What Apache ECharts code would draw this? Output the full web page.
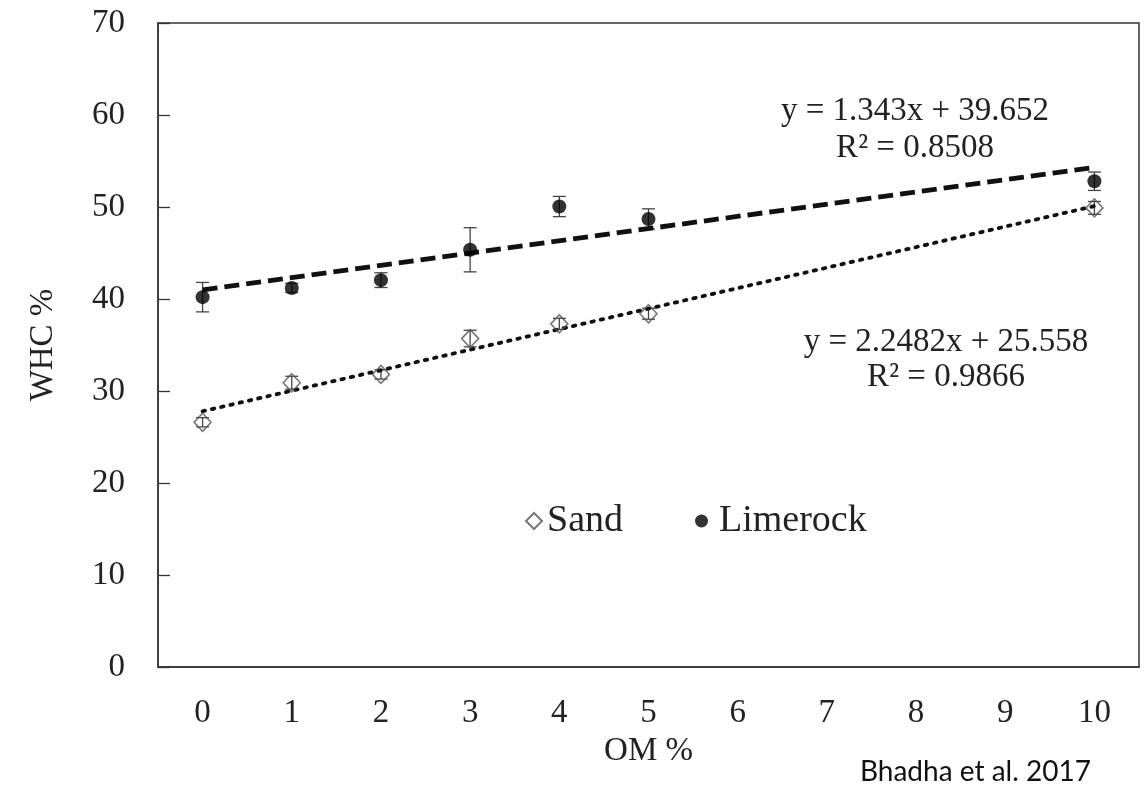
<!DOCTYPE html>
<html>
<head>
<meta charset="utf-8">
<script src="https://cdn.jsdelivr.net/npm/echarts@6/dist/echarts.min.js"></script>
<style>
html,body{margin:0;padding:0;background:#fff;}
#chart{width:1148px;height:785px;}
</style>
</head>
<body>
<div id="chart"></div>
<script>
// Tick labels / categories on the OM % axis
const omCategories = ['0','1','2','3','4','5','6','7','8','9','10'];
// OM % levels that were measured
const omMeasured = ['0','1','2','3','4','5','10'];
// WHC % values
const sandWHC = [26.6, 30.9, 31.8, 35.7, 37.3, 38.4, 49.9];
const sandErr = [0.5, 0.7, 0.5, 0.9, 0.6, 0.6, 0.7];
const limerockWHC = [40.2, 41.2, 42.05, 45.35, 50.05, 48.7, 52.8];
const limerockErr = [1.6, 0.5, 0.8, 2.4, 1.1, 1.1, 1.0];
// Linear trend line end points as drawn (at OM 0 and OM 10)
const trendX = ['0','10'];
const sandTrend = [27.8, 50.1];
const limerockTrend = [41.0, 54.3];
// Equation labels
const limerockEq = ['y = 1.343x + 39.652', 'R² = 0.8508'];
const sandEq = ['y = 2.2482x + 25.558', 'R² = 0.9866'];
const yTicks = {min: 0, max: 70, interval: 10};

const serif = 'Liberation Serif';
const txt = '#222';

function pairs(xs, ys) { return xs.map((x, i) => [x, ys[i]]); }
function triples(xs, ys, es) { return xs.map((x, i) => [x, ys[i], es[i]]); }

function errRender(params, api) {
  const x = api.value(0), y = api.value(1), e = api.value(2);
  const t = api.coord([x, y + e]);
  const b = api.coord([x, y - e]);
  const hw = 6.5;
  const st = {stroke: '#444', lineWidth: 1.3};
  return {type: 'group', children: [
    {type: 'line', shape: {x1: t[0], y1: t[1], x2: b[0], y2: b[1]}, style: st},
    {type: 'line', shape: {x1: t[0] - hw, y1: t[1], x2: t[0] + hw, y2: t[1]}, style: st},
    {type: 'line', shape: {x1: b[0] - hw, y1: b[1], x2: b[0] + hw, y2: b[1]}, style: st}
  ]};
}

function eqText(text, x, y) {
  return {type: 'text', x: x, y: y, style: {text: text,
    textAlign: 'center', textVerticalAlign: 'middle', font: '33px "Liberation Serif"', fill: txt}};
}

const chart = echarts.init(document.getElementById('chart'), null, {renderer: 'canvas'});
chart.setOption({
  animation: false,
  backgroundColor: '#fff',
  grid: {left: 158, right: 9, top: 23, bottom: 118, show: true,
         borderColor: '#333', borderWidth: 1.5, backgroundColor: 'transparent'},
  xAxis: {
    type: 'category', data: omCategories, boundaryGap: true,
    name: 'OM %', nameLocation: 'middle', nameGap: 67,
    nameTextStyle: {fontFamily: serif, fontSize: 33, color: txt},
    axisLine: {lineStyle: {color: '#333', width: 1.5}},
    axisTick: {alignWithLabel: true, inside: false, length: 10, lineStyle: {color: '#333', width: 1.3}},
    axisLabel: {fontFamily: serif, fontSize: 33, color: txt, margin: 30},
    splitLine: {show: false}
  },
  yAxis: {
    type: 'value', min: yTicks.min, max: yTicks.max, interval: yTicks.interval,
    name: 'WHC %', nameLocation: 'middle', nameGap: 98, nameRotate: 90,
    nameTextStyle: {fontFamily: serif, fontSize: 33, color: txt},
    axisLine: {show: true, lineStyle: {color: '#333', width: 1.5}},
    axisTick: {show: true, inside: true, length: 12, lineStyle: {color: '#333', width: 1.3}},
    axisLabel: {fontFamily: serif, fontSize: 33, color: txt, margin: 33},
    splitLine: {show: false}
  },
  legend: [
    {data: ['Sand'], left: 520, top: 497, itemWidth: 16, itemHeight: 16,
     icon: 'diamond', textStyle: {fontFamily: serif, fontSize: 38, color: txt}},
    {data: ['Limerock'], left: 690, top: 497, itemWidth: 13, itemHeight: 13,
     icon: 'circle', textStyle: {fontFamily: serif, fontSize: 38, color: txt, padding: [0, 0, 0, 6]}}
  ],
  graphic: [
    eqText(limerockEq[0], 915, 111),
    eqText(limerockEq[1], 915, 148),
    eqText(sandEq[0], 946, 342),
    eqText(sandEq[1], 946, 377),
    {type: 'text', x: 860, y: 772, style: {text: 'Bhadha et al. 2017',
      textAlign: 'left', textVerticalAlign: 'middle', font: '28px Lato', fill: '#111'}}
  ],
  series: [
    {name: 'Sand trend', type: 'line', data: pairs(trendX, sandTrend), showSymbol: false, symbol: 'none',
     lineStyle: {color: '#111', width: 3.8, type: [2.5, 7], cap: 'round'}, z: 3, silent: true},
    {name: 'Limerock trend', type: 'line', data: pairs(trendX, limerockTrend), showSymbol: false, symbol: 'none',
     lineStyle: {color: '#111', width: 4.8, type: [15, 7]}, z: 3, silent: true},
    {name: 'Sand err', type: 'custom', renderItem: errRender, data: triples(omMeasured, sandWHC, sandErr),
     encode: {x: 0, y: 1}, z: 2, silent: true},
    {name: 'Limerock err', type: 'custom', renderItem: errRender, data: triples(omMeasured, limerockWHC, limerockErr),
     encode: {x: 0, y: 1}, z: 2, silent: true},
    {name: 'Sand', type: 'scatter', data: pairs(omMeasured, sandWHC), symbol: 'diamond', symbolSize: [17, 18],
     itemStyle: {color: 'rgba(255,255,255,0)', borderColor: '#555', borderWidth: 1.6}, z: 4},
    {name: 'Limerock', type: 'scatter', data: pairs(omMeasured, limerockWHC), symbol: 'circle', symbolSize: 14,
     itemStyle: {color: '#000'}, z: 4}
  ]
});
</script>
</body>
</html>
